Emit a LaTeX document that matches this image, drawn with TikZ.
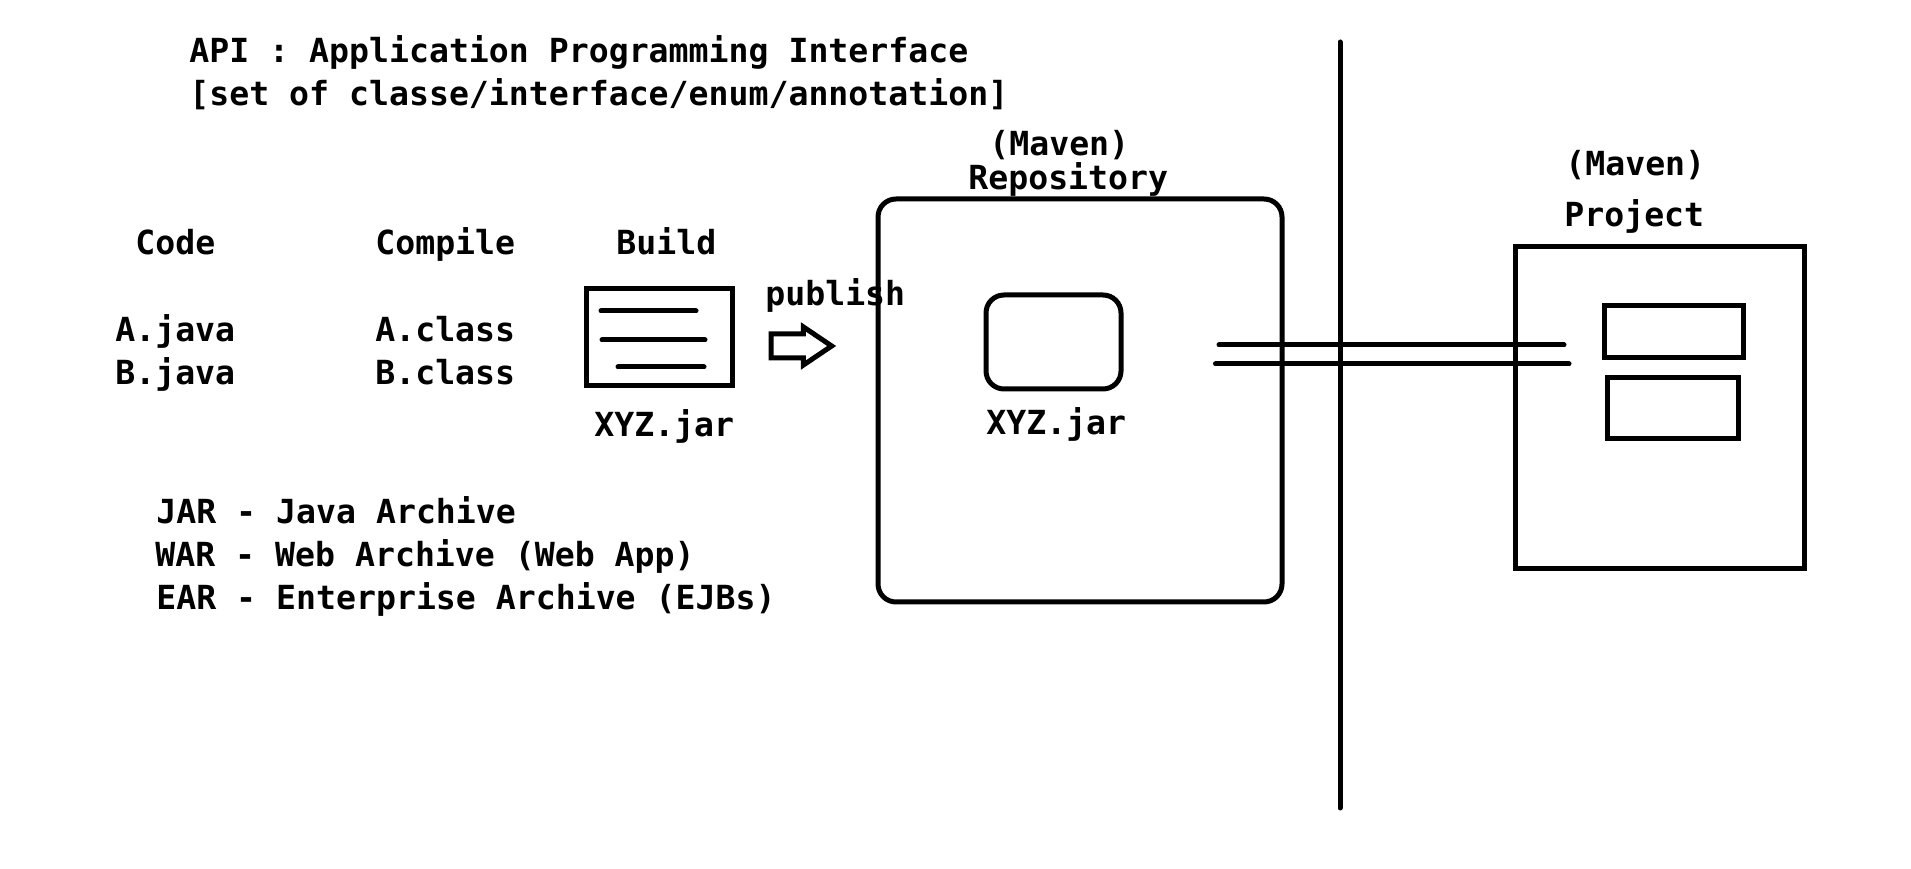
\documentclass[tikz,border=0pt]{standalone}
\usepackage{fontspec}
\setmainfont{DejaVu Sans Mono}
\usetikzlibrary{shapes.arrows}

\tikzset{
    label text/.style={anchor=base west, inner sep=0pt, font=\fontsize{18.88}{22}\selectfont\bfseries},
    sketch box/.style={draw=black, line width=0.1cm, minimum width=#1, inner sep=0pt},
    sketch line/.style={black, line width=0.1cm, line cap=round},
}

\begin{document}
\begin{tikzpicture}
    \useasboundingbox (0,0) rectangle (38.22,17.38);

    % heading
    \node[label text] (apiTitle) at (3.78,16.12) {API : Application Programming Interface};
    \node[label text] (apiSet) at (3.78,15.26) {[set of classe/interface/enum/annotation]};

    % code, compile, build
    \node[label text] (codeTitle) at (2.70,12.28) {Code};
    \node[label text] (compileTitle) at (7.50,12.28) {Compile};
    \node[label text] (buildTitle) at (12.32,12.28) {Build};
    \node[label text] (javaA) at (2.30,10.54) {A.java};
    \node[label text] (javaB) at (2.30,9.68) {B.java};
    \node[label text] (classA) at (7.50,10.54) {A.class};
    \node[label text] (classB) at (7.50,9.68) {B.class};

    % jar file
    \node[sketch box=2.92cm, minimum height=1.94cm] (jarBox) at (13.18,10.63) {};
    \coordinate (lineOneA) at (12.02,11.16);
    \coordinate (lineOneB) at (13.92,11.16);
    \coordinate (lineTwoA) at (12.04,10.58);
    \coordinate (lineTwoB) at (14.10,10.58);
    \coordinate (lineThreeA) at (12.36,10.04);
    \coordinate (lineThreeB) at (14.08,10.04);
    \draw[sketch line] (lineOneA) -- (lineOneB);
    \draw[sketch line] (lineTwoA) -- (lineTwoB);
    \draw[sketch line] (lineThreeA) -- (lineThreeB);
    \node[label text] (jarName) at (11.88,8.64) {XYZ.jar};

    % publish
    \node[draw=black, line width=0.1cm, shape=single arrow, single arrow tip angle=68,
        single arrow head extend=0.14cm, single arrow head indent=0cm,
        minimum width=0.66cm, minimum height=1.21cm, inner xsep=0pt, inner ysep=0.19cm] (publishArrow) at (15.85,10.46) {};
    \node[label text] (publishText) at (15.30,11.26) {publish};

    % archive types
    \node[label text] (jarText) at (3.12,6.90) {JAR - Java Archive};
    \node[label text] (warText) at (3.10,6.04) {WAR - Web Archive (Web App)};
    \node[label text] (earText) at (3.12,5.18) {EAR - Enterprise Archive (EJBs)};

    % repository
    \node[label text] (repoMaven) at (19.78,14.26) {(Maven)};
    \node[label text] (repoTitle) at (19.36,13.58) {Repository};
    \node[sketch box=8.08cm, minimum height=8.06cm, rounded corners=0.36cm] (repoBox) at (21.60,9.37) {};
    \node[sketch box=2.70cm, minimum height=1.88cm, rounded corners=0.36cm] (repoJar) at (21.07,10.54) {};
    \node[label text] (repoJarName) at (19.72,8.68) {XYZ.jar};

    % divider
    \coordinate (dividerTop) at (26.80,16.54);
    \coordinate (dividerBottom) at (26.80,1.22);
    \draw[sketch line] (dividerTop) -- (dividerBottom);

    % project
    \node[label text] (projectMaven) at (31.30,13.86) {(Maven)};
    \node[label text] (projectTitle) at (31.28,12.84) {Project};
    \node[sketch box=5.79cm, minimum height=6.44cm] (projectBox) at (33.20,9.22) {};
    \node[sketch box=2.78cm, minimum height=1.04cm] (projectTop) at (33.47,10.74) {};
    \node[sketch box=2.62cm, minimum height=1.22cm] (projectBottom) at (33.46,9.21) {};

    % dependency link
    \coordinate (linkOneA) at (24.38,10.48);
    \coordinate (linkOneB) at (31.28,10.48);
    \coordinate (linkTwoA) at (24.31,10.10);
    \coordinate (linkTwoB) at (31.38,10.10);
    \draw[sketch line] (linkOneA) -- (linkOneB);
    \draw[sketch line] (linkTwoA) -- (linkTwoB);
\end{tikzpicture}
\end{document}
